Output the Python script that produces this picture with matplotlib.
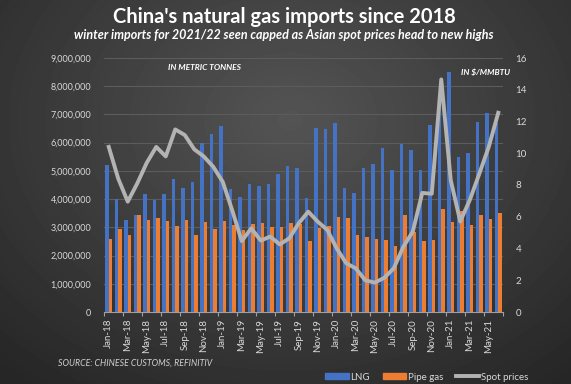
import numpy as np
import pandas as pd
import matplotlib
matplotlib.use("Agg")
import matplotlib.pyplot as plt
from matplotlib.patches import Patch
from matplotlib.lines import Line2D
from matplotlib.ticker import FuncFormatter

plt.rcParams['font.family'] = ['Lato', 'DejaVu Sans']

# dados mensais jan-18 .. jun-21
months = list(pd.date_range('2018-01-01', '2021-06-01', freq='MS').strftime('%b-%y'))

lng = [5.20, 4.00, 3.26, 3.42, 4.17, 3.97, 4.17, 4.72, 4.40, 4.62, 6.00, 6.30,
       6.60, 4.36, 4.08, 4.54, 4.46, 4.54, 4.90, 5.19, 5.10, 4.05, 6.52, 6.50,
       6.68, 4.40, 4.22, 5.12, 5.24, 5.80, 5.03, 5.96, 5.74, 5.03, 6.62, 7.40,
       8.50, 5.50, 5.62, 6.75, 7.05, 6.70]
pipe = [2.59, 2.94, 2.72, 3.44, 3.26, 3.33, 3.23, 3.06, 3.25, 2.72, 3.19, 2.94,
        3.23, 3.10, 2.90, 3.12, 3.14, 3.00, 3.00, 3.17, 3.13, 2.50, 2.98, 3.06,
        3.37, 3.33, 2.73, 2.64, 2.60, 2.55, 2.34, 3.42, 2.85, 2.53, 2.56, 3.65,
        3.20, 3.58, 3.08, 3.44, 3.29, 3.50]
spot = [10.4, 8.4, 6.95, 8.1, 9.4, 10.4, 9.8, 11.5, 11.15, 10.25, 9.8, 9.15,
        8.2, 6.4, 4.47, 5.27, 4.5, 4.75, 4.26, 4.64, 5.59, 6.32, 5.69, 5.17,
        4.0, 3.07, 2.75, 2.0, 1.85, 2.15, 2.75, 4.1, 5.06, 7.5, 7.45, 14.65,
        8.3, 5.7, 7.05, 8.7, 10.4, 12.55]

lng_t = np.array(lng) * 1e6
pipe_t = np.array(pipe) * 1e6
x = np.arange(len(months))

fig = plt.figure(figsize=(5.71, 3.84), dpi=100)

# fundo com gradiente radial
h, w = 384, 571
yy, xx = np.mgrid[0:h, 0:w]
r = np.sqrt(((xx - 290) / 420.0) ** 2 + ((yy - 120) / 330.0) ** 2)
grad = np.clip(84 - 45 * r, 38, 90)
bg = fig.add_axes([0, 0, 1, 1], zorder=-10)
bg.imshow(grad, cmap='gray', vmin=0, vmax=255, aspect='auto')
bg.axis('off')

ax = fig.add_axes([104 / 571, 1 - 312 / 384, 399 / 571, 254 / 384])
ax.set_facecolor('none')
ax.bar(x - 0.18, lng_t, width=0.36, color='#4472c4', zorder=3)
ax.bar(x + 0.18, pipe_t, width=0.36, color='#ed7d31', zorder=3)
ax.set_xlim(-0.5, len(months) - 0.5)
ax.set_ylim(0, 9e6)
ax.set_yticks(np.arange(0, 9e6 + 1, 1e6))
ax.yaxis.set_major_formatter(FuncFormatter(lambda v, p: f'{int(v):,}'))
ax.grid(axis='y', color='#5c5c5c', linewidth=0.8, zorder=0)
for s in ['top', 'left', 'right']:
    ax.spines[s].set_visible(False)
ax.spines['bottom'].set_color('#a0a0a0')
ax.tick_params(axis='y', length=0, pad=9, labelsize=6.5, labelcolor='#d9d9d9')

# ticks nas fronteiras, rótulos a cada 2 meses
ax.set_xticks(np.arange(-0.5, len(months), 2))
ax.set_xticklabels([])
ax.set_xticks(x[::2], minor=True)
ax.set_xticklabels(months[::2], minor=True, rotation=90)
ax.tick_params(axis='x', which='major', length=3, color='#a0a0a0')
ax.tick_params(axis='x', which='minor', length=0, pad=5, labelsize=7, labelcolor='#d9d9d9')

ax2 = ax.twinx()
ax2.plot(x, spot, color='#b3b3b3', linewidth=2.8, solid_joinstyle='round', zorder=5)
ax2.set_ylim(0, 16)
ax2.set_yticks(range(0, 17, 2))
for s in ['top', 'left', 'right', 'bottom']:
    ax2.spines[s].set_visible(False)
ax2.tick_params(axis='y', length=0, pad=9, labelsize=7, labelcolor='#d9d9d9')

fig.text(0.498, 0.955, "China's natural gas imports since 2018", ha='center', va='center',
         fontsize=14.5, fontweight='bold', color='white')
fig.text(0.497, 0.908, 'winter imports for 2021/22 seen capped as Asian spot prices head to new highs',
         ha='center', va='center', fontsize=9, fontweight='bold', style='italic', color='white')
fig.text(205 / 571, 1 - 67 / 384, 'IN METRIC TONNES', ha='center', va='center',
         fontsize=6, fontweight='bold', style='italic', color='white')
fig.text(510 / 571, 1 - 72 / 384, 'IN $/MMBTU', ha='right', va='center',
         fontsize=6, fontweight='bold', style='italic', color='white')
fig.text(58 / 571, 1 - 363 / 384, 'SOURCE: CHINESE CUSTOMS, REFINITIV', ha='left', va='center',
         fontsize=6.3, style='italic', color='#d0d0d0')

handles = [Patch(color='#4472c4'), Patch(color='#ed7d31'),
           Line2D([], [], color='#b3b3b3', linewidth=2.8)]
fig.legend(handles, ['LNG', 'Pipe gas', 'Spot prices'], loc='center', ncol=3,
           bbox_to_anchor=(427 / 571, 1 - 377 / 384), frameon=False, fontsize=7,
           labelcolor='#d9d9d9', handlelength=2.4, handleheight=0.5, columnspacing=1.3,
           handletextpad=0.2, borderpad=0)

fig.savefig('out.png', dpi=100)
